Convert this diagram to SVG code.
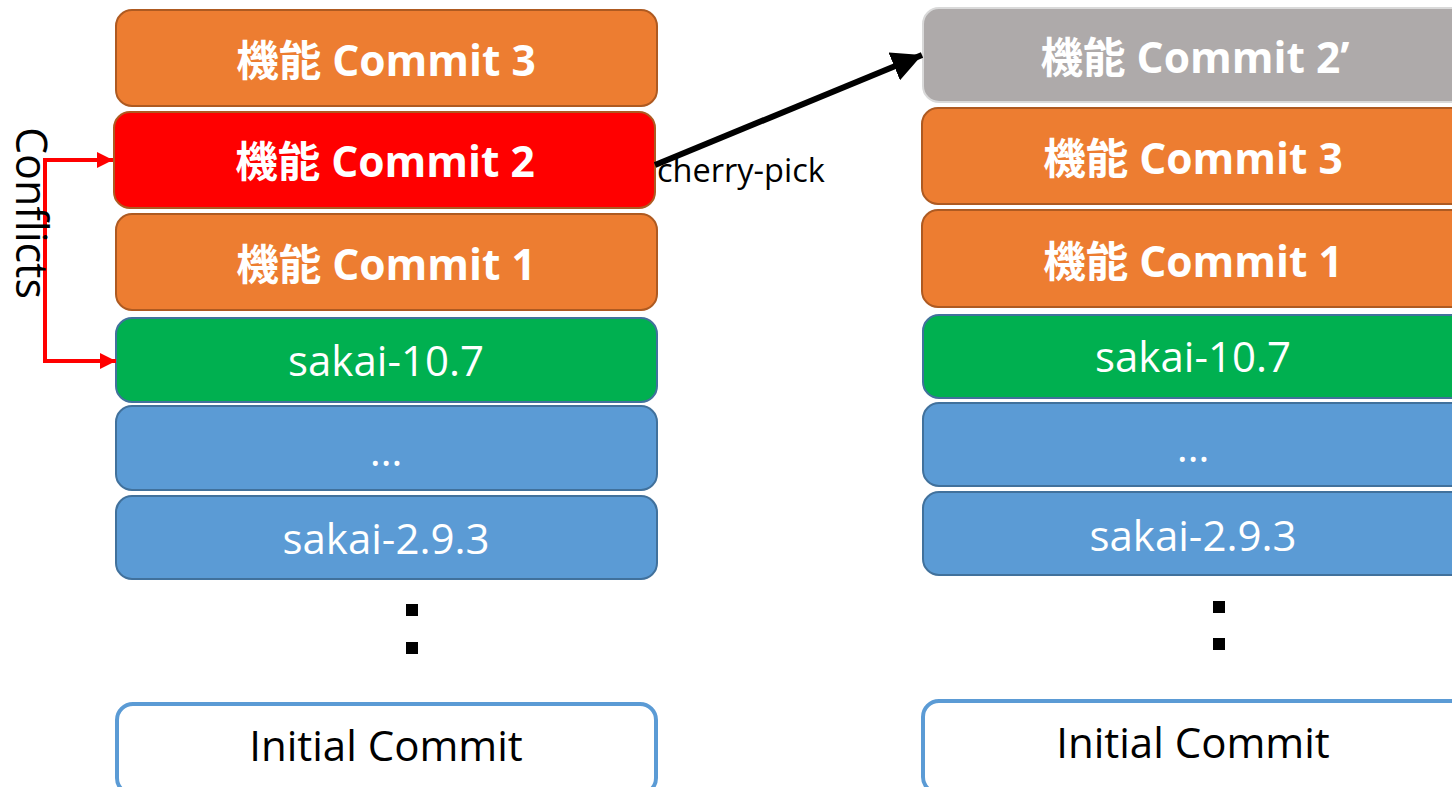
<svg xmlns="http://www.w3.org/2000/svg" width="1452" height="787" viewBox="0 0 1452 787">
<style>
.box{stroke-width:2}
.or{fill:#ED7D31;stroke:#AE5A21}
.rd{fill:#FF0000;stroke:#AE5A21}
.gr{fill:#00B050;stroke:#41719C}
.bl{fill:#5B9BD5;stroke:#41719C}
.gy{fill:#AEAAAA;stroke:#D9D9D9}
.ini{fill:#FFFFFF;stroke:#5B9BD5;stroke-width:4}
text{font-family:"Open Sans","Noto Sans CJK JP",sans-serif;text-anchor:middle}
.b{font-weight:bold;fill:#FFFFFF;font-size:42.5px}
.n{fill:#FFFFFF;font-size:42px}
.k{fill:#000000;font-size:42px}
</style>
<defs>
<marker id="ar" viewBox="0 0 10 10" refX="10" refY="5" markerWidth="4" markerHeight="4" orient="auto" markerUnits="strokeWidth"><path d="M0,0L10,5L0,10z" fill="#FF0000"/></marker>
<marker id="ak" viewBox="0 0 10 10" refX="10" refY="5" markerWidth="5" markerHeight="5" orient="auto" markerUnits="strokeWidth"><path d="M0,0L10,5L0,10z" fill="#000000"/></marker>
</defs>
<g id="left-c3"><rect class="box or" x="116" y="10" width="541" height="96" rx="16"/><text class="b" x="386" y="76">機能 Commit 3</text></g>
<g id="left-c2"><rect class="box rd" x="114" y="112" width="541" height="96" rx="16"/><text class="b" x="385" y="177">機能 Commit 2</text></g>
<g id="left-c1"><rect class="box or" x="116" y="214" width="541" height="96" rx="16"/><text class="b" x="386" y="280">機能 Commit 1</text></g>
<g id="left-s107"><rect class="box gr" x="116" y="318" width="541" height="84" rx="16"/><text class="n" x="386" y="376">sakai-10.7</text></g>
<g id="left-dots"><rect class="box bl" x="116" y="406" width="541" height="84" rx="16"/><text class="n" x="386" y="466">…</text></g>
<g id="left-s293"><rect class="box bl" x="116" y="496" width="541" height="83" rx="16"/><text class="n" x="386" y="554">sakai-2.9.3</text></g>
<g id="left-vdots"><rect x="406" y="604" width="12" height="12" fill="#000"/><rect x="406" y="642" width="12" height="12" fill="#000"/></g>
<g id="left-init"><rect class="ini" x="117" y="704" width="539" height="90" rx="16"/><text class="k" x="386" y="761">Initial Commit</text></g>

<g id="right-c2p"><rect class="box gy" x="923" y="8" width="545" height="94" rx="16"/><text class="b" x="1195" y="73">機能 Commit 2’</text></g>
<g id="right-c3"><rect class="box or" x="922" y="108" width="545" height="96" rx="16"/><text class="b" x="1193" y="174">機能 Commit 3</text></g>
<g id="right-c1"><rect class="box or" x="922" y="210" width="545" height="97" rx="16"/><text class="b" x="1193" y="277">機能 Commit 1</text></g>
<g id="right-s107"><rect class="box gr" x="923" y="315" width="545" height="83" rx="16"/><text class="n" x="1193" y="372">sakai-10.7</text></g>
<g id="right-dots"><rect class="box bl" x="923" y="403" width="545" height="83" rx="16"/><text class="n" x="1193" y="462">…</text></g>
<g id="right-s293"><rect class="box bl" x="923" y="492" width="545" height="83" rx="16"/><text class="n" x="1193" y="551">sakai-2.9.3</text></g>
<g id="right-vdots"><rect x="1213" y="601" width="12" height="12" fill="#000"/><rect x="1213" y="638" width="12" height="12" fill="#000"/></g>
<g id="right-init"><rect class="ini" x="923" y="701" width="545" height="92" rx="16"/><text class="k" x="1193" y="758">Initial Commit</text></g>

<g id="connectors">
<polyline points="113,160 45,160 45,361 116,361" fill="none" stroke="#FF0000" stroke-width="4"/>
<path d="M45,160H113" fill="none" stroke="#FF0000" stroke-width="4" marker-end="url(#ar)"/>
<path d="M45,361H116" fill="none" stroke="#FF0000" stroke-width="4" marker-end="url(#ar)"/>
<path d="M655,165L922,55" fill="none" stroke="#000000" stroke-width="6" marker-end="url(#ak)"/>
<text x="657" y="182" style="text-anchor:start;font-size:32.5px;fill:#000">cherry-pick</text>
<text transform="translate(16,127) rotate(90)" style="text-anchor:start;font-size:43px;fill:#000">Conflicts</text>
</g>
</svg>
